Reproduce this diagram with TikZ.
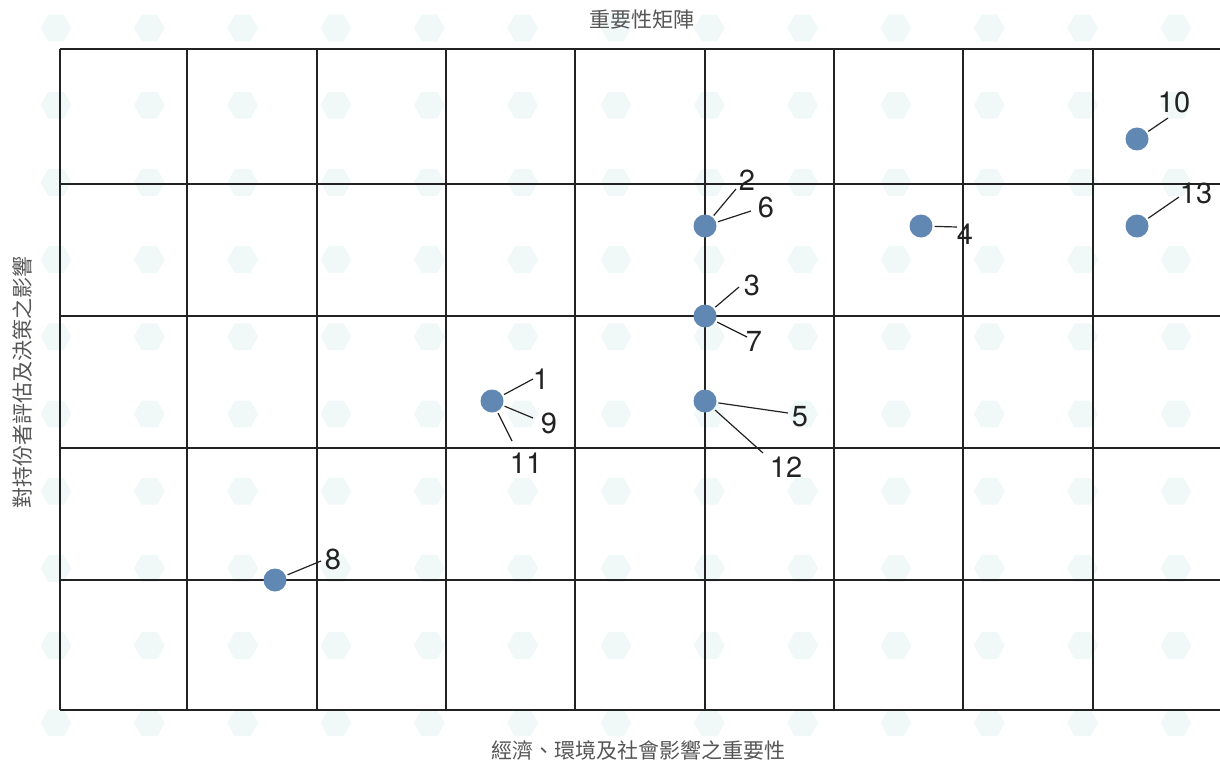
\documentclass[tikz,border=0pt]{standalone}
\usepackage{fontspec}
\setmainfont{TeX Gyre Heros}
\newfontfamily\cjk{Noto Sans CJK TC}
\definecolor{dot}{RGB}{96, 136, 179}
\definecolor{hex}{RGB}{241, 248, 248}
\definecolor{ink}{RGB}{34, 34, 34}
\definecolor{caption}{RGB}{85, 85, 85}

\begin{document}
\begin{tikzpicture}[x=1pt, y=-1pt, line width=1.2pt,
  pt/.style={circle, fill=dot, minimum size=23pt, inner sep=0pt},
  num/.style={font=\fontsize{29}{32}\selectfont, text=ink, inner sep=0pt},
  ttl/.style={font=\cjk\fontsize{21}{24}\selectfont, text=caption, inner sep=0pt}]
  \useasboundingbox (0, 0) rectangle (1220, 762);

  \foreach \i in {0,...,12}
    \foreach \j in {0,...,9}
      \fill[hex] ({56+93.33*\i}, {28+77.2*\j}) +(0:15.5) -- +(60:15.5) -- +(120:15.5)
        -- +(180:15.5) -- +(240:15.5) -- +(300:15.5) -- cycle;

  \foreach \x in {60, 187, 317, 446, 575, 705, 834, 963, 1093}
    \draw[color=ink] (\x, 49) -- (\x, 710);
  \foreach \y in {49, 184, 316, 448, 580, 710}
    \draw[color=ink] (60, \y) -- (1220, \y);

  \node[ttl] (title) at (642, 20) {重要性矩陣};
  \node[ttl] (xlabel) at (638, 750) {經濟、環境及社會影響之重要性};
  \node[ttl, rotate=90] (ylabel) at (22, 382) {對持份者評估及決策之影響};

  \node[pt] (d8) at (275, 580) {};
  \node[pt] (d1) at (492, 401) {};
  \node[pt] (d5) at (705, 401) {};
  \node[pt] (d3) at (705, 316) {};
  \node[pt] (d2) at (705, 226) {};
  \node[pt] (d4) at (921, 226) {};
  \node[pt] (d10) at (1137, 139) {};
  \node[pt] (d13) at (1137, 226) {};

  \node[num] (l8) at (333, 559) {8};
  \node[num] (l1) at (541, 379) {1};
  \node[num] (l9) at (549, 423) {9};
  \node[num] (l11) at (526, 463) {11};
  \node[num] (l5) at (800, 417) {5};
  \node[num] (l12) at (786, 467) {12};
  \node[num] (l3) at (752, 285) {3};
  \node[num] (l7) at (754, 341) {7};
  \node[num] (l2) at (747, 180) {2};
  \node[num] (l6) at (766, 207) {6};
  \node[num] (l4) at (965, 234) {4};
  \node[num] (l10) at (1174, 102) {10};
  \node[num] (l13) at (1196, 193) {13};

  \coordinate (e8) at (321, 561);
  \coordinate (e1) at (533, 379);
  \coordinate (e9) at (533, 418);
  \coordinate (e11) at (512, 441);
  \coordinate (e5) at (788, 413);
  \coordinate (e12) at (763, 453);
  \coordinate (e3) at (739, 287);
  \coordinate (e7) at (747, 337);
  \coordinate (e2) at (736, 189);
  \coordinate (e6) at (751, 211);
  \coordinate (e4) at (957, 227);
  \coordinate (e10) at (1168, 118);
  \coordinate (e13) at (1179, 197);

  \foreach \d/\e in {d8/e8, d1/e1, d1/e9, d1/e11, d5/e5, d5/e12, d3/e3, d3/e7,
                     d2/e2, d2/e6, d4/e4, d10/e10, d13/e13}
    \draw[color=ink, shorten <=1.5pt] (\d) -- (\e);
\end{tikzpicture}
\end{document}
